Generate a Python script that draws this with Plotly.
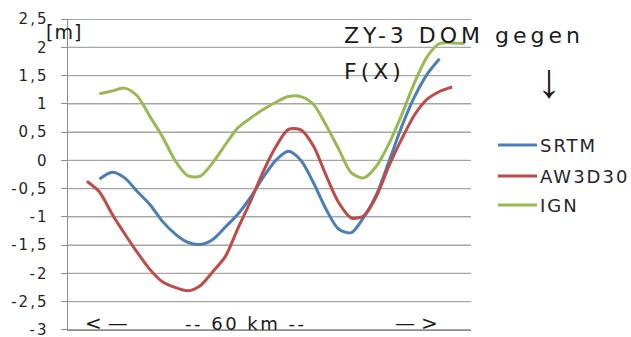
import plotly.graph_objects as go

# Category positions along the 60 km profile
srtm_x = list(range(2, 30))
srtm_y = [-0.33, -0.21, -0.31, -0.55, -0.78, -1.08, -1.30, -1.45, -1.49, -1.40,
          -1.18, -0.95, -0.65, -0.30, 0.00, 0.16, 0.00, -0.40, -0.87, -1.22,
          -1.28, -1.00, -0.60, -0.01, 0.60, 1.12, 1.52, 1.80]

aw3d30_x = list(range(1, 31))
aw3d30_y = [-0.37, -0.56, -0.95, -1.30, -1.63, -1.93, -2.15, -2.25, -2.31, -2.22,
            -1.97, -1.70, -1.20, -0.72, -0.20, 0.24, 0.55, 0.54, 0.25, -0.27,
            -0.75, -1.02, -0.98, -0.63, -0.09, 0.38, 0.80, 1.08, 1.22, 1.30]

ign_x = list(range(2, 32))
ign_y = [1.18, 1.23, 1.28, 1.14, 0.78, 0.42, 0.00, -0.27, -0.28, -0.04,
         0.28, 0.58, 0.75, 0.90, 1.03, 1.13, 1.13, 0.99, 0.62, 0.20,
         -0.22, -0.31, -0.10, 0.30, 0.81, 1.37, 1.83, 2.07, 2.08, 2.07]

n_categories = 32

series_names = ["SRTM", "AW3D30", "IGN"]
series_colors = ["#4a7ebb", "#be4b48", "#98b954"]

tick_vals = [-3, -2.5, -2, -1.5, -1, -0.5, 0, 0.5, 1, 1.5, 2, 2.5]
tick_text = ["-3", "-2,5", "-2", "-1,5", "-1", "-0,5", "0", "0,5", "1", "1,5", "2", "2,5"]

FONT = "DejaVu Sans"
W, H = 631, 337
L, R, T, B = 68, 160, 19, 7
PW, PH = W - L - R, H - T - B


def px_x(x):
    return (x - L) / PW


def px_y(y):
    return (H - B - y) / PH


def spaced(text, ls):
    return f'<span style="letter-spacing:{ls}px">{text}</span>'


fig = go.Figure()

# One horizontal gridline per tick value, spanning the category axis
for v in tick_vals:
    fig.add_trace(go.Scatter(
        x=[-0.5, 7.5, 15.5, 23.5, n_categories - 0.5], y=[v] * 5,
        mode="lines", hoverinfo="skip", showlegend=False,
        line=dict(color="#a6a6a6", width=1.3),
    ))

for name, xs, ys, col in zip(series_names,
                             [srtm_x, aw3d30_x, ign_x],
                             [srtm_y, aw3d30_y, ign_y],
                             series_colors):
    fig.add_trace(go.Scatter(
        x=xs, y=ys, name=name, mode="lines",
        line=dict(color=col, width=3, shape="spline", smoothing=0.8),
        showlegend=False,
    ))

fig.update_layout(
    width=W, height=H,
    margin=dict(l=L, r=R, t=T, b=B, pad=0, autoexpand=False),
    paper_bgcolor="white", plot_bgcolor="rgba(0,0,0,0)",
    font=dict(family=FONT, color="#262626"),
    xaxis=dict(range=[-0.5, n_categories - 0.5], showgrid=False, zeroline=False,
               showticklabels=False, ticks="", showline=True,
               linecolor="#8c8c8c", linewidth=1, automargin=False),
    yaxis=dict(range=[-3.004, 2.504], tickmode="array", tickvals=tick_vals,
               ticktext=[spaced(t, 2) + "&nbsp;&nbsp;" for t in tick_text],
               automargin=False, ticklabeloverflow="allow",
               showgrid=True, gridcolor="#a6a6a6", gridwidth=1,
               zeroline=False, showline=True, linecolor="#8c8c8c", linewidth=1,
               ticks="outside", ticklen=6, tickcolor="#8c8c8c", tickwidth=1,
               tickfont=dict(family=FONT, size=15, color="#262626")),
)

# Legend drawn as sample lines with labels
legend_rows = [145, 176, 205]
for name, col, yy in zip(series_names, series_colors, legend_rows):
    fig.add_shape(type="line", xref="paper", yref="paper",
                  x0=px_x(498), x1=px_x(537), y0=px_y(yy), y1=px_y(yy),
                  line=dict(color=col, width=3))
    fig.add_annotation(text=spaced(name, 2), xref="paper", yref="paper",
                       x=px_x(538), y=px_y(yy), xanchor="left", yanchor="middle",
                       showarrow=False, font=dict(family=FONT, size=18, color="#262626"))

texts = [
    ("[m]", 44, 32, 19, 1),
    ("ZY-3 DOM gegen", 342, 35, 22, 4),
    ("F(X)", 342, 72, 22, 4),
    ("-- 60 km --", 183, 323, 18, 2.5),
    ("<—", 83, 323, 20, 6),
    ("—>", 393, 323, 20, 6),
]
for txt, x, y, size, ls in texts:
    fig.add_annotation(text=spaced(txt, ls), xref="paper", yref="paper",
                       x=px_x(x), y=px_y(y), xanchor="left", yanchor="middle",
                       showarrow=False,
                       font=dict(family=FONT, size=size, color="#1a1a1a"))

fig.add_annotation(text="↓", xref="paper", yref="paper",
                   x=px_x(549), y=px_y(80), xanchor="center", yanchor="middle",
                   showarrow=False,
                   font=dict(family="Liberation Sans", size=48, color="#1a1a1a"))

fig.write_html("out.html")
